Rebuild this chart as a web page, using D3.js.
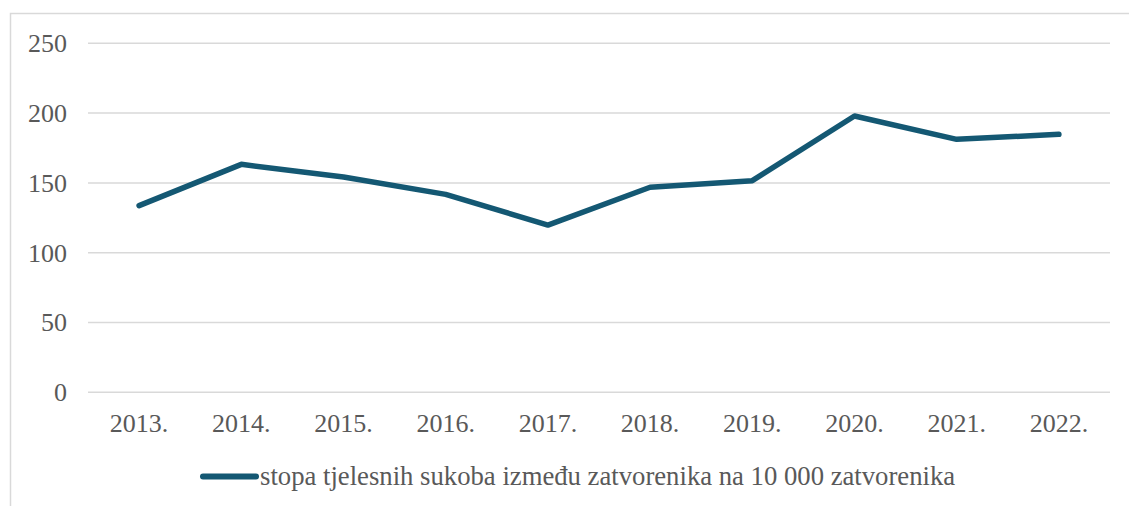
<!DOCTYPE html>
<html>
<head>
<meta charset="utf-8">
<script src="https://cdn.jsdelivr.net/npm/d3@7"></script>
<style>
  body { margin: 0; background: #fff; }
</style>
</head>
<body>
<div id="chart"></div>
<script>
// data
var years = ['2013.', '2014.', '2015.', '2016.', '2017.', '2018.', '2019.', '2020.', '2021.', '2022.'];
var rates = [133.7, 163.3, 154.2, 141.8, 119.8, 146.9, 151.6, 197.9, 181.2, 184.8];
var yTicks = [0, 50, 100, 150, 200, 250];
var seriesName = 'stopa tjelesnih sukoba između zatvorenika na 10 000 zatvorenika';

var dimensions = {
  width: 1129,
  height: 506,
  margin: { top: 43.3, bottom: 113.7, left: 88, right: 19 }
};
dimensions.containerWidth = dimensions.width - dimensions.margin.left - dimensions.margin.right;
dimensions.containerHeight = dimensions.height - dimensions.margin.top - dimensions.margin.bottom;

var lineColor = '#145873';
var textColor = '#595959';
var fontFamily = '"Liberation Serif", "Times New Roman", serif';

var svg = d3.select('#chart')
  .append('svg')
  .attr('width', dimensions.width)
  .attr('height', dimensions.height)
  .style('font-family', fontFamily);

// outer frame
svg.append('rect')
  .attr('x', 10.5)
  .attr('y', 13.5)
  .attr('width', 1140)
  .attr('height', 520)
  .attr('fill', 'none')
  .attr('stroke', '#d9d9d9')
  .attr('stroke-width', 1.5);

var container = svg.append('g')
  .attr('transform', 'translate(' + dimensions.margin.left + ',' + dimensions.margin.top + ')');

// scales
var xScale = d3.scaleBand()
  .domain(years)
  .range([0, dimensions.containerWidth]);

var yScale = d3.scaleLinear()
  .domain([0, 250])
  .range([dimensions.containerHeight, 0]);

// grid
container.append('g')
  .selectAll('line')
  .data(yTicks)
  .join('line')
  .attr('x1', 0)
  .attr('x2', dimensions.containerWidth)
  .attr('y1', d => yScale(d))
  .attr('y2', d => yScale(d))
  .attr('stroke', '#d9d9d9')
  .attr('stroke-width', 1.5);

// axes
var yAxis = d3.axisLeft(yScale)
  .tickValues(yTicks)
  .tickSize(0)
  .tickPadding(21);

var yAxisGroup = container.append('g').call(yAxis)
  .attr('font-family', null)
  .attr('font-size', null);
yAxisGroup.select('.domain').remove();
yAxisGroup.selectAll('text')
  .style('font-size', '26px')
  .attr('fill', textColor)
  .attr('dy', '0.32em');

var xAxis = d3.axisBottom(xScale)
  .tickSize(0)
  .tickPadding(21);

var xAxisGroup = container.append('g')
  .attr('transform', 'translate(0,' + dimensions.containerHeight + ')')
  .call(xAxis)
  .attr('font-family', null)
  .attr('font-size', null);
xAxisGroup.select('.domain').remove();
xAxisGroup.selectAll('text')
  .style('font-size', '26px')
  .attr('fill', textColor);

// line
var line = d3.line()
  .x((d, i) => xScale(years[i]) + xScale.bandwidth() / 2)
  .y(d => yScale(d));

container.append('path')
  .datum(rates)
  .attr('d', line)
  .attr('fill', 'none')
  .attr('stroke', lineColor)
  .attr('stroke-width', 5.5)
  .attr('stroke-linecap', 'round')
  .attr('stroke-linejoin', 'round');

// legend
var legend = svg.append('g')
  .attr('transform', 'translate(203,476.5)');

legend.append('line')
  .attr('x1', 0)
  .attr('x2', 53)
  .attr('stroke', lineColor)
  .attr('stroke-width', 6)
  .attr('stroke-linecap', 'round');

legend.append('text')
  .attr('x', 57)
  .attr('dy', '0.3em')
  .attr('fill', textColor)
  .style('font-size', '26.7px')
  .text(seriesName);
</script>
</body>
</html>
